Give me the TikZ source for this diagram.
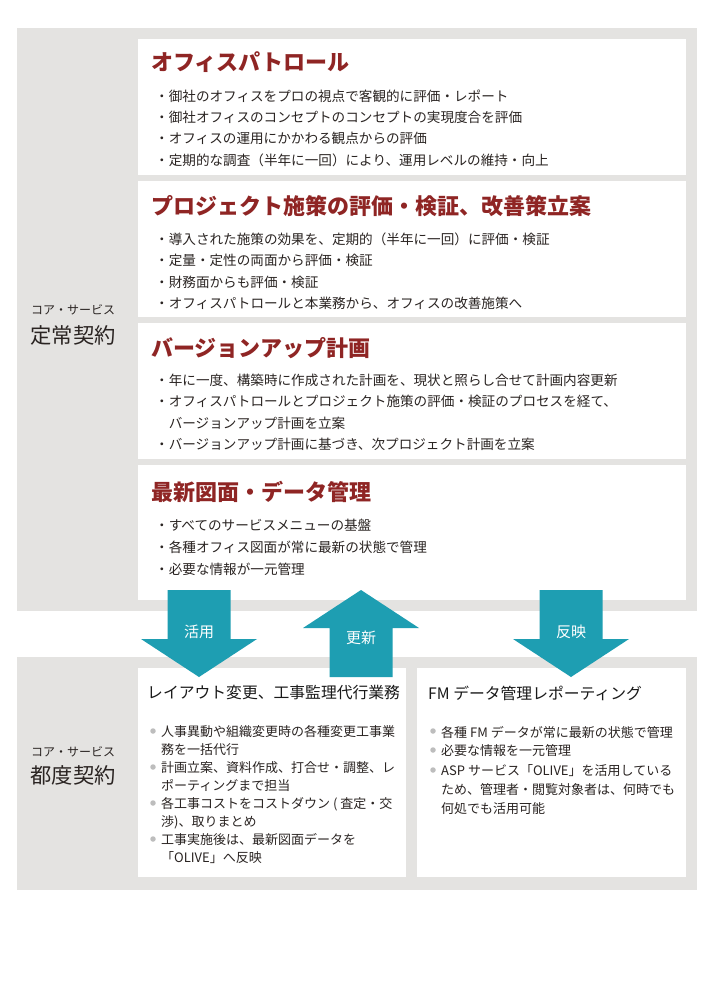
\documentclass[tikz,border=0pt]{standalone}
\usepackage{fontspec}
\setmainfont{Noto Sans CJK JP}
\usepackage{xcolor}
\usepackage{tikz}
\usetikzlibrary{positioning}
\definecolor{panelc}{HTML}{E4E3E1}
\definecolor{titlec}{HTML}{8F2524}
\definecolor{textc}{HTML}{2A2422}
\definecolor{tealc}{HTML}{1E9EB2}
\definecolor{dotc}{HTML}{BDBDBD}
\tikzset{
  panel/.style={fill=panelc,draw=none,anchor=north west,inner sep=0pt,minimum width=680pt},
  card/.style={fill=white,draw=none,anchor=north west,inner sep=0pt},
  ttl/.style={anchor=west,inner sep=0pt,text=titlec,font=\bfseries\fontsize{22}{26}\selectfont},
  item/.style={anchor=west,inner sep=0pt,text=textc,font=\fontsize{13.6}{16}\selectfont},
  sub/.style={anchor=west,inner sep=0pt,text=black!90,font=\fontsize{15.8}{18}\selectfont},
  bl/.style={anchor=west,inner sep=0pt,text=textc,align=left},
  dot/.style={circle,fill=dotc,inner sep=0pt,minimum size=5.5pt},
  kind/.style={inner sep=0pt,text=textc,font=\fontsize{12}{14}\selectfont},
  big/.style={inner sep=0pt,text=textc,font=\fontsize{21.3}{24}\selectfont},
  flowtxt/.style={inner sep=0pt,text=white,font=\fontsize{15}{18}\selectfont},
  dnarr/.pic={\fill[tealc] (-31.5,0) -- (31.5,0) -- (31.5,49) -- (58,49) -- (0,87)
    -- (-58,49) -- (-31.5,49) -- cycle;},
  uparr/.pic={\fill[tealc] (-31.5,87) -- (31.5,87) -- (31.5,38) -- (58,38) -- (0,0)
    -- (-58,38) -- (-31.5,38) -- cycle;}
}
\begin{document}
\begin{tikzpicture}[x=1pt,y=-1pt]
\fill[white] (0,0) rectangle (710,1000);
\useasboundingbox (0,0) rectangle (710,1000);

% gray panels
\node[panel,minimum height=583pt] (fixed) at (17,28) {};
\node[panel,minimum height=233pt] (spot) at (17,657) {};
\node[kind] (k1) at (73,310) {コア・サービス};
\node[big] (k2) at (73,335) {定常契約};
\node[kind] (k3) at (73,752) {コア・サービス};
\node[big] (k4) at (73,775) {都度契約};

% top cards
\foreach \k [count=\n] in {0,1,2}
  \node[card,minimum width=548pt,minimum height=136pt] (c\n) at (138,{39+142*\k}) {};
\node[card,minimum width=548pt,minimum height=135pt] (c4) at (138,465) {};

\node[ttl] (t1) at (151,62) {オフィスパトロール};
\foreach \txt [count=\i from 0] in {{御社のオフィスをプロの視点で客観的に評価・レポート},
  {御社オフィスのコンセプトのコンセプトの実現度合を評価},
  {オフィスの運用にかかわる観点からの評価},
  {定期的な調査（半年に一回）により、運用レベルの維持・向上}}
  \node[item] (a\i) at (155,{96+21.3*\i}) {・\txt};

\node[ttl] (t2) at (151,206) {プロジェクト施策の評価・検証、改善策立案};
\foreach \txt [count=\i from 0] in {{導入された施策の効果を、定期的（半年に一回）に評価・検証},
  {定量・定性の両面から評価・検証},
  {財務面からも評価・検証},
  {オフィスパトロールと本業務から、オフィスの改善施策へ}}
  \node[item] (b\i) at (155,{239+21.5*\i}) {・\txt};

\node[ttl] (t3) at (151,348) {バージョンアップ計画};
\node[item] (v0) at (155,380) {・年に一度、構築時に作成された計画を、現状と照らし合せて計画内容更新};
\node[item] (v1) at (155,401.5) {・オフィスパトロールとプロジェクト施策の評価・検証のプロセスを経て、};
\node[item] (v2) at (155,423) {\hphantom{・}バージョンアップ計画を立案};
\node[item] (v3) at (155,444.5) {・バージョンアップ計画に基づき、次プロジェクト計画を立案};

\node[ttl] (t4) at (151,492) {最新図面・データ管理};
\foreach \txt [count=\i from 0] in {{すべてのサービスメニューの基盤},
  {各種オフィス図面が常に最新の状態で管理},
  {必要な情報が一元管理}}
  \node[item] (d\i) at (155,{525+22*\i}) {・\txt};

% bottom cards
\node[card,minimum width=268pt,minimum height=209pt] (c5) at (138,668) {};
\node[card,minimum width=269pt,minimum height=209pt] (c6) at (417,668) {};

\node[sub] (s1) at (147,693) {レイアウト変更、工事監理代行業務};
\node[dot] (p1) at (153,731) {};
\node[bl,font=\fontsize{13}{18}\selectfont] (q1) at (161,741) {人事異動や組織変更時の各種変更工事業\\務を一括代行};
\node[dot] (p2) at (153,767) {};
\node[bl,font=\fontsize{13}{18}\selectfont] (q2) at (161,777) {計画立案、資料作成、打合せ・調整、レ\\ポーティングまで担当};
\node[dot] (p3) at (153,803) {};
\node[bl,font=\fontsize{13}{18}\selectfont] (q3) at (161,813) {各工事コストをコストダウン ( 査定・交\\渉)、取りまとめ};
\node[dot] (p4) at (153,839) {};
\node[bl,font=\fontsize{13}{18}\selectfont] (q4) at (161,849) {工事実施後は、最新図面データを\\「OLIVE」へ反映};

\node[sub] (s2) at (428,693) {FM データ管理レポーティング};
\node[dot] (r1) at (433,731) {};
\node[bl,font=\fontsize{13}{19}\selectfont] (u1) at (441,732) {各種 FM データが常に最新の状態で管理};
\node[dot] (r2) at (433,750) {};
\node[bl,font=\fontsize{13}{19}\selectfont] (u2) at (441,751) {必要な情報を一元管理};
\node[dot] (r3) at (433,770) {};
\node[bl,font=\fontsize{13}{19}\selectfont] (u3) at (441,790) {ASP サービス「OLIVE」を活用している\\ため、管理者・閲覧対象者は、何時でも\\何処でも活用可能};

% flow arrows
\pic at (199,590) {dnarr};
\pic at (361,590) {uparr};
\pic at (571,590) {dnarr};
\node[flowtxt] (f1) at (199,632) {活用};
\node[flowtxt] (f2) at (361,638) {更新};
\node[flowtxt] (f3) at (571,632) {反映};
\end{tikzpicture}
\end{document}
